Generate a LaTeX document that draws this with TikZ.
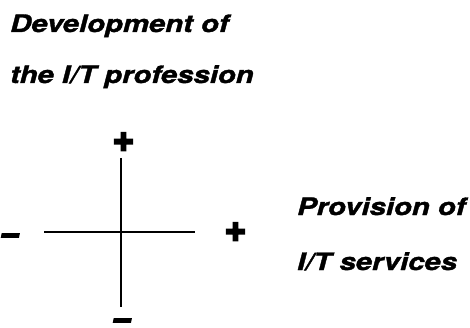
\documentclass[tikz,border=0pt]{standalone}
\usepackage{fontspec}
\setmainfont{TeX Gyre Heros}
\newfontfamily\headfont[FakeStretch=1.22, FakeBold=1.5]{TeX Gyre Heros}
\newfontfamily\signfont[FakeBold=6]{TeX Gyre Heros}
\usetikzlibrary{positioning}

\tikzset{
    title/.style = {font=\headfont\bfseries\itshape\fontsize{24}{28}\selectfont, anchor=base west, inner sep=0pt},
    plus/.style  = {font=\signfont\bfseries\itshape\fontsize{37}{37}\selectfont, inner sep=0pt},
    minus/.style = {font=\signfont\bfseries\itshape\fontsize{29}{29}\selectfont, inner sep=0pt,
                    text height=0.35em, text depth=0pt, anchor=base},
    axis/.style  = {line width=2pt}
}

\begin{document}
\begin{tikzpicture}[x=1pt, y=-1pt]
    \useasboundingbox (0,0) rectangle (470,328);

    \coordinate (L) at (44,232);
    \coordinate (R) at (195,232);
    \coordinate (T) at (121,158);
    \coordinate (B) at (121,307);

    \draw [axis] (L) -- (R);
    \draw [axis] (T) -- (B);

    \node[plus] (top) at (123,142) {+};
    \node[minus] (bot) at (122,328) {\textendash};
    \node[minus] (lft) at (10,243) {\textendash};
    \node[plus] (rgt) at (235,232) {+};

    \node[title] (dev) at (10,32) {Development of};
    \node[title] (pro) at (10,83) {the I/T profession};
    \node[title] (prv) at (297,215) {Provision of};
    \node[title] (its) at (297,270) {I/T services};
\end{tikzpicture}
\end{document}
